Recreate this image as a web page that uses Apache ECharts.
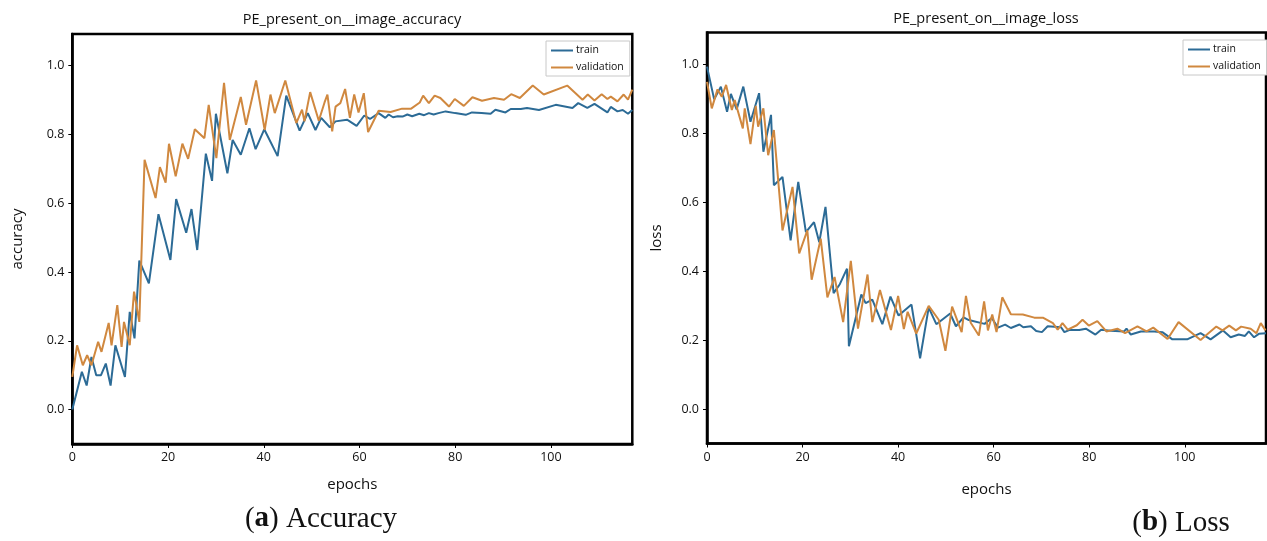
<!DOCTYPE html>
<html>
<head>
<meta charset="utf-8">
<script src="https://cdn.jsdelivr.net/npm/echarts@6/dist/echarts.min.js"></script>
<style>
  html, body { margin: 0; padding: 0; background: #fff; }
  #chart { width: 1267px; height: 541px; }
</style>
</head>
<body>
<div id="chart"></div>
<script>
// Training curves: [epoch, value] pairs at each logged step
const accTrain = [[0,0.0],[2,0.11],[3,0.07],[4,0.153],[5,0.10],[6,0.10],[7,0.134],[8,0.07],[9,0.187],[11,0.095],[12,0.284],[13,0.207],[14,0.433],[16,0.367],[18,0.568],[20.5,0.435],[21.7,0.612],[23.8,0.514],[24.9,0.583],[26.1,0.464],[27.9,0.744],[29.2,0.665],[30,0.86],[32.4,0.687],[33.5,0.784],[35.2,0.741],[37,0.818],[38.3,0.757],[40.1,0.815],[42.9,0.737],[44.7,0.913],[47.5,0.811],[49.2,0.862],[50.8,0.813],[52,0.848],[53.8,0.821],[55,0.838],[57.4,0.843],[59.4,0.825],[61,0.855],[62.2,0.845],[64,0.862],[65.4,0.848],[66.1,0.858],[67,0.85],[68,0.853],[69,0.852],[70,0.858],[71,0.853],[72.5,0.86],[73.5,0.856],[74.5,0.862],[75.5,0.858],[76.5,0.862],[78,0.867],[80,0.862],[82.2,0.857],[83.5,0.864],[85.5,0.862],[87.4,0.86],[88.4,0.872],[90.5,0.864],[91.6,0.874],[93.7,0.874],[95,0.877],[97.5,0.871],[101,0.886],[104.5,0.877],[105.7,0.891],[107.6,0.877],[109.1,0.889],[111.8,0.864],[112.5,0.88],[113.9,0.867],[115,0.871],[116.1,0.86],[117,0.871]];
const accVal = [[0,0.095],[1,0.187],[2.2,0.129],[3.1,0.158],[4,0.129],[5.4,0.197],[6.1,0.168],[7.6,0.252],[8.2,0.187],[9.4,0.304],[10.3,0.182],[10.8,0.255],[12,0.187],[12.9,0.343],[14,0.255],[15.1,0.726],[17.4,0.615],[18.3,0.705],[19.5,0.66],[20.2,0.773],[21.6,0.678],[23,0.773],[24.2,0.729],[25.6,0.815],[27.6,0.789],[28.5,0.886],[30.1,0.731],[31.7,0.95],[32.9,0.784],[35.2,0.909],[36.3,0.828],[38.4,0.957],[40.2,0.813],[41.4,0.916],[42.3,0.862],[44.5,0.957],[46.8,0.833],[48,0.872],[48.5,0.838],[49.7,0.923],[51.5,0.84],[52.7,0.893],[53.3,0.916],[54.3,0.809],[55,0.881],[56,0.891],[57,0.932],[58,0.848],[58.9,0.916],[59.8,0.864],[60.9,0.92],[61.8,0.807],[64,0.869],[66.5,0.865],[68.9,0.875],[70.8,0.875],[72.6,0.893],[73.3,0.913],[74.5,0.891],[75.7,0.913],[76.9,0.906],[78.7,0.881],[79.9,0.903],[81.8,0.883],[83.6,0.908],[85.6,0.898],[88.1,0.906],[90.2,0.901],[91.7,0.917],[93.5,0.906],[96.2,0.942],[98.5,0.916],[103.4,0.942],[106.6,0.901],[107.7,0.916],[109.1,0.899],[110.6,0.917],[111.8,0.903],[112.5,0.91],[113.9,0.896],[115.2,0.916],[116.1,0.901],[117,0.93]];
const lossTrain = [[0,0.993],[1.5,0.898],[2.9,0.935],[4.2,0.862],[5,0.914],[6.2,0.869],[7.6,0.935],[9.1,0.833],[10.9,0.916],[11.8,0.746],[13.4,0.853],[14,0.649],[15.8,0.673],[17.5,0.489],[19.1,0.659],[20.7,0.513],[22.4,0.542],[23.5,0.484],[24.8,0.586],[26.5,0.336],[27.8,0.362],[29.3,0.407],[29.7,0.182],[32.3,0.332],[33.2,0.307],[34.6,0.317],[36.7,0.246],[38.4,0.326],[40.1,0.271],[42.8,0.303],[44.6,0.147],[46.4,0.294],[48,0.246],[50.9,0.277],[52.1,0.24],[53.7,0.266],[54.8,0.258],[58.1,0.247],[59.6,0.264],[60.9,0.236],[62.4,0.245],[63.6,0.235],[65.4,0.245],[66.2,0.237],[67.8,0.24],[68.9,0.226],[70.1,0.223],[71.3,0.24],[74.1,0.237],[74.8,0.223],[75.8,0.229],[77.9,0.229],[79.3,0.233],[81.3,0.216],[82.5,0.23],[84.5,0.227],[87.3,0.225],[87.8,0.233],[88.7,0.216],[90.8,0.225],[93.6,0.225],[95.3,0.223],[97.4,0.202],[100.5,0.202],[103.3,0.22],[105.4,0.202],[108,0.228],[109.6,0.208],[111.3,0.216],[112.6,0.212],[113.4,0.225],[114.5,0.208],[115.5,0.218],[117,0.22]];
const lossVal = [[0,0.949],[1,0.872],[2.2,0.927],[3.1,0.906],[4,0.94],[5.2,0.867],[5.8,0.896],[7.5,0.814],[7.9,0.872],[9.1,0.768],[10.2,0.879],[10.7,0.819],[11.8,0.872],[12.8,0.736],[14,0.809],[15.8,0.518],[17.9,0.644],[19.3,0.451],[21,0.518],[21.9,0.375],[23.8,0.494],[25.2,0.324],[26.7,0.383],[28.5,0.252],[30.1,0.43],[31.6,0.233],[33.6,0.39],[34.6,0.252],[36.2,0.345],[38.5,0.229],[40,0.328],[41.2,0.232],[42,0.282],[43.8,0.219],[46.4,0.299],[48.5,0.259],[49.9,0.169],[51.3,0.297],[53.3,0.223],[54.2,0.328],[55.2,0.25],[56.9,0.213],[58,0.312],[58.8,0.228],[59.7,0.274],[60.6,0.223],[61.8,0.324],[63.6,0.275],[66.1,0.274],[68.5,0.265],[70.3,0.265],[72.4,0.249],[73.4,0.23],[74.4,0.249],[75.5,0.23],[77.4,0.243],[78.6,0.259],[79.9,0.242],[81.7,0.255],[83.6,0.225],[85.9,0.233],[87.5,0.22],[90.1,0.24],[92,0.225],[93.4,0.236],[96.4,0.203],[98.7,0.252],[103.3,0.2],[106.6,0.239],[107.9,0.228],[109.3,0.242],[110.7,0.228],[111.8,0.239],[113.8,0.233],[115,0.22],[115.9,0.249],[116.9,0.228]];

const yTicks = [0, 0.2, 0.4, 0.6, 0.8, 1.0];
const xTickStep = 20;
const seriesNames = ['train', 'validation'];
const panelTitles = ['PE_present_on__image_accuracy', 'PE_present_on__image_loss'];
const yNames = ['accuracy', 'loss'];
const xName = 'epochs';

const BLUE = '#2c6b96';
const ORANGE = '#d0883f';
const FONT = '"Open Sans", "Noto Sans", sans-serif';
const SERIF = '"Liberation Serif", "DejaVu Serif", serif';

const chart = echarts.init(document.getElementById('chart'), null, { renderer: 'canvas' });

function xAxisFor(gridIndex, nameGap) {
  return {
    type: 'value', gridIndex, min: 0, max: 117, interval: xTickStep,
    name: xName, nameLocation: 'middle', nameGap,
    nameTextStyle: { fontFamily: FONT, fontSize: 15, color: '#111' },
    axisLine: { show: true, onZero: false, lineStyle: { color: '#000', width: 2.5 } },
    axisTick: { show: true, length: 4, lineStyle: { color: '#000', width: 1 } },
    axisLabel: { fontFamily: FONT, fontSize: 12.5, color: '#111', margin: 7, showMaxLabel: false },
    splitLine: { show: false }
  };
}
function yAxisFor(gridIndex, name, nameGap) {
  return {
    type: 'value', gridIndex, min: -0.1, max: 1.092,
    name, nameLocation: 'middle', nameGap,
    nameTextStyle: { fontFamily: FONT, fontSize: 15, color: '#111' },
    axisLine: { show: true, onZero: false, lineStyle: { color: '#000', width: 2.5 } },
    axisTick: { show: true, length: 4, customValues: yTicks, lineStyle: { color: '#000', width: 1 } },
    axisLabel: { fontFamily: FONT, fontSize: 12.5, color: '#111', margin: 8, customValues: yTicks,
      formatter: v => v.toFixed(1) },
    splitLine: { show: false }
  };
}
function lineSeries(name, data, color, idx) {
  return {
    type: 'line', name, data, xAxisIndex: idx, yAxisIndex: idx,
    showSymbol: false, symbol: 'none', smooth: false, animation: false,
    lineStyle: { color, width: 2 }, itemStyle: { color }
  };
}
function legendAt(left, top) {
  return {
    data: seriesNames, orient: 'vertical', left, top,
    icon: 'rect', itemWidth: 22, itemHeight: 2, itemGap: 6,
    padding: [4, 6, 3, 5], borderColor: '#c8c8c8', borderWidth: 1, borderRadius: 0,
    backgroundColor: '#fff',
    textStyle: { fontFamily: FONT, fontSize: 10.5, color: '#111', padding: [0, 0, 0, -2] },
    selectedMode: false
  };
}

const option = {
  animation: false,
  backgroundColor: '#fff',
  grid: [
    { left: 72.3, top: 34, width: 560, height: 410, show: true, borderColor: '#000', borderWidth: 2.5, backgroundColor: 'transparent' },
    { left: 707, top: 32.5, width: 559, height: 411, show: true, borderColor: '#000', borderWidth: 2.5, backgroundColor: 'transparent' }
  ],
  xAxis: [xAxisFor(0, 33), xAxisFor(1, 39)],
  yAxis: [yAxisFor(0, yNames[0], 47), yAxisFor(1, yNames[1], 43)],
  legend: [legendAt(546, 41), legendAt(1183, 40)],
  series: [
    lineSeries(seriesNames[0], accTrain, BLUE, 0),
    lineSeries(seriesNames[1], accVal, ORANGE, 0),
    lineSeries(seriesNames[0], lossTrain, BLUE, 1),
    lineSeries(seriesNames[1], lossVal, ORANGE, 1)
  ],
  graphic: [
    { type: 'text', x: 352, y: 20, style: { text: panelTitles[0], font: '14.5px ' + FONT, fill: '#111', textAlign: 'center', textVerticalAlign: 'middle' } },
    { type: 'text', x: 986, y: 19, style: { text: panelTitles[1], font: '14.5px ' + FONT, fill: '#111', textAlign: 'center', textVerticalAlign: 'middle' } },
    { type: 'text', x: 321, y: 519, style: {
        text: '({b|a}) Accuracy', textAlign: 'center', textVerticalAlign: 'middle',
        font: '29px ' + SERIF, fill: '#111',
        rich: { b: { fontFamily: SERIF, fontSize: 29, fontWeight: 'bold', fill: '#111' } } } },
    { type: 'text', x: 1181, y: 523, style: {
        text: '({b|b}) Loss', textAlign: 'center', textVerticalAlign: 'middle',
        font: '29px ' + SERIF, fill: '#111',
        rich: { b: { fontFamily: SERIF, fontSize: 29, fontWeight: 'bold', fill: '#111' } } } }
  ]
};
chart.setOption(option);
</script>
</body>
</html>
